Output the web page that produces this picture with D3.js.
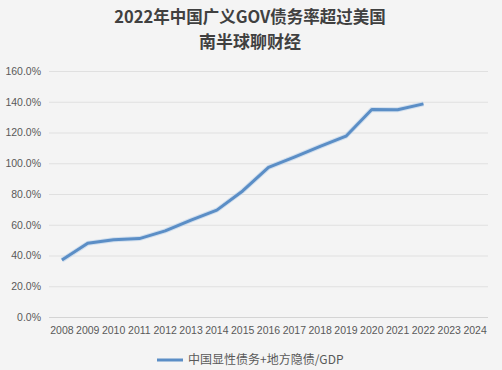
<!DOCTYPE html>
<html lang="zh">
  <head>
    <meta charset="utf-8" />
    <title>2022年中国广义GOV债务率超过美国</title>
    <script src="https://d3js.org/d3.v7.min.js"></script>
    <style>
      body {
        margin: 0;
        background: #f4f4f4;
      }
      svg {
        display: block;
        font-family: "Liberation Sans", "Noto Sans CJK SC", sans-serif;
      }
      .axis text {
        fill: #595959;
        font-size: 10.5px;
      }
      .title {
        fill: #404040;
        font-family: "Noto Sans CJK SC", sans-serif;
        font-weight: bold;
      }
    </style>
  </head>
  <body>
    <svg id="chart"></svg>
    <script>
      const years = ["2008", "2009", "2010", "2011", "2012", "2013", "2014", "2015", "2016",
        "2017", "2018", "2019", "2020", "2021", "2022", "2023", "2024"];
      // ratio in %, 2023/2024 have no value
      const debtRatio = [37, 47.9, 50.3, 51, 56, 63, 69.5, 82, 97.3, 104, 111, 117.6, 135, 134.8, 138.6, null, null];
      const yTicks = [0, 20, 40, 60, 80, 100, 120, 140, 160];
      const seriesName = "中国显性债务+地方隐债/GDP";

      const width = 502;
      const height = 370;
      const margin = { top: 71, right: 14, bottom: 53, left: 49 };

      const svg = d3.select("#chart").attr("width", width).attr("height", height);

      svg.append("text")
        .attr("class", "title")
        .attr("x", 250)
        .attr("y", 23)
        .attr("text-anchor", "middle")
        .style("font-size", "16.5px")
        .text("2022年中国广义GOV债务率超过美国");
      svg.append("text")
        .attr("class", "title")
        .attr("x", 250)
        .attr("y", 48)
        .attr("text-anchor", "middle")
        .style("font-size", "17px")
        .text("南半球聊财经");

      const x = d3.scaleBand()
        .domain(years)
        .range([margin.left, width - margin.right]);
      const y = d3.scaleLinear()
        .domain([0, 160])
        .range([height - margin.bottom, margin.top]);

      // gridlines
      svg.append("g")
        .selectAll("line")
        .data(yTicks)
        .join("line")
        .attr("x1", margin.left)
        .attr("x2", width - margin.right)
        .attr("y1", (d) => y(d) + 0.5)
        .attr("y2", (d) => y(d) + 0.5)
        .attr("stroke", (d) => (d === 0 ? "#d4d4d4" : "#e0e0e0"))
        .attr("stroke-width", 1);

      // y axis labels
      const yAxis = d3.axisLeft(y)
        .tickValues(yTicks)
        .tickSize(0)
        .tickPadding(8)
        .tickFormat((d) => d.toFixed(1) + "%");
      svg.append("g")
        .attr("class", "axis")
        .attr("transform", `translate(${margin.left},0)`)
        .call(yAxis)
        .call((g) => g.select(".domain").remove());

      // x axis labels
      const xAxis = d3.axisBottom(x).tickSize(0).tickPadding(10);
      svg.append("g")
        .attr("class", "axis")
        .attr("transform", `translate(0,${height - margin.bottom})`)
        .call(xAxis)
        .call((g) => g.select(".domain").remove());

      const points = years.map((yr, i) => ({ yr, v: debtRatio[i] }));
      const line = d3.line()
        .defined((d) => d.v != null)
        .x((d) => x(d.yr) + x.bandwidth() / 2)
        .y((d) => y(d.v));

      // soft halo under the line
      svg.append("path")
        .datum(points)
        .attr("fill", "none")
        .attr("stroke", "#b9d0ea")
        .attr("stroke-width", 5)
        .attr("stroke-opacity", 0.6)
        .attr("d", line);
      svg.append("path")
        .datum(points)
        .attr("fill", "none")
        .attr("stroke", "#5b8ec6")
        .attr("stroke-width", 3)
        .attr("stroke-linejoin", "round")
        .attr("d", line);

      // legend
      const lg = svg.append("g").attr("transform", "translate(157,360)");
      lg.append("line")
        .attr("x1", 0)
        .attr("x2", 26)
        .attr("stroke", "#5b8ec6")
        .attr("stroke-width", 3);
      lg.append("text")
        .attr("x", 31)
        .attr("dy", "0.35em")
        .style("font-size", "12px")
        .style("font-family", "'Noto Sans CJK SC', sans-serif")
        .attr("fill", "#595959")
        .text(seriesName);
    </script>
  </body>
</html>
